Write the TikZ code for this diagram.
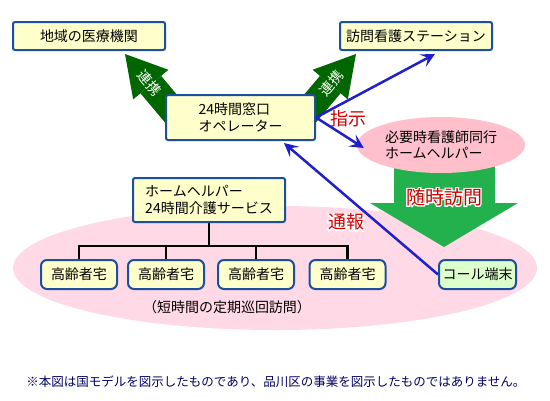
\documentclass[tikz,border=0pt]{standalone}
\usepackage{fontspec}
\newfontfamily\jpfont{Noto Sans CJK JP}
\usetikzlibrary{shapes.geometric,arrows.meta,calc}
\pgfdeclarelayer{fundo}
\pgfsetlayers{fundo,main}
\definecolor{amarelo}{HTML}{FFFFCC}
\definecolor{borda}{HTML}{1C4FA0}
\definecolor{rosa}{HTML}{FFC0CB}
\definecolor{rosaclaro}{HTML}{FFD9E6}
\definecolor{verdeescuro}{HTML}{006600}
\definecolor{verde}{HTML}{22B14C}
\definecolor{verdeclaro}{HTML}{DDFFCC}
\definecolor{azul}{HTML}{1F1FCC}
\definecolor{vermelho}{HTML}{CC0000}
\definecolor{marinho}{HTML}{000066}
% texto com contorno branco
\newcommand{\contorno}[1]{\makebox[0pt][l]{\color{white}\special{pdf:literal direct 2 Tr 2.5 w}#1\special{pdf:literal direct 0 Tr 0.4 w}}#1}

\begin{document}
\begin{tikzpicture}[x=1pt,y=-1pt,font=\jpfont\fontsize{14}{16.5}\selectfont]
% Definição de estilos
\tikzset{
  caixa/.style={rectangle, draw=borda, line width=2pt, fill=amarelo, rounded corners=2pt, minimum width=152pt, minimum height=28pt, inner sep=0pt},
  casa/.style={caixa, rounded corners=6pt, minimum width=76pt, minimum height=29pt},
  oval/.style={ellipse, fill=#1, inner sep=0pt},
  aviso/.style={text=vermelho, font=\jpfont\fontsize{18}{20}\selectfont},
  renkei/.style={draw=verdeescuro, line width=27pt, -{Triangle[length=40pt, width=46pt, line width=0pt]}},
  instrucao/.style={draw=azul, line width=2.5pt, -{Stealth[length=14pt, width=14pt, inset=6pt]}},
  arvore/.style={draw=black, line width=2.5pt}
}
\useasboundingbox (0,0) rectangle (550,400);

% Caixas superiores
\node[caixa] (iryo) at (89,36) {地域の医療機関};
\node[caixa] (station) at (416,36) {訪問看護ステーション};

% Operador
\node[caixa, minimum width=149pt, minimum height=45pt, align=left] (op) at (240.5,117.5) {24時間窓口\\オペレーター};

% Visita quando necessario
\node[oval=rosa, minimum width=168pt, minimum height=56pt, align=left] (doko) at (441,145) {必要時看護師同行\\ホームヘルパー};

% Ajudante 24 horas
\node[caixa, minimum height=44pt, align=left] (helper) at (209,200) {ホームヘルパー\\24時間介護サービス};

% Casas dos idosos
\foreach \i/\x in {1/79,2/166,3/256,4/347.5}
  \node[casa] (casa\i) at (\x,274.5) {高齢者宅};
\node[casa, fill=verdeclaro, minimum width=77pt] (koru) at (477.5,274.5) {コール端末};

\node (teiki) at (227,307) {（短時間の定期巡回訪問）};

% Rotulos
\node[aviso] (shiji) at (348,119) {\contorno{指示}};
\node[aviso] (tsuho) at (346,222) {\contorno{通報}};
\node[aviso, font=\jpfont\fontsize{19}{21}\selectfont] (zuijilabel) at (444,197) {\contorno{随時訪問}};

\node[text=marinho, font=\jpfont\fontsize{12.5}{14}\selectfont] (nota) at (276,382) {※本図は国モデルを図示したものであり、品川区の事業を図示したものではありません。};

% Fundo: elipse grande e setas largas
\begin{pgfonlayer}{fundo}
\node[oval=rosaclaro, minimum width=524pt, minimum height=124pt] (area) at (275,268) {};
\coordinate (zuijitip) at (444,247);
\draw[draw=verde, line width=101pt, -{Triangle[length=44pt, width=148pt, line width=0pt]}] (zuijitip |- doko.center) -- (zuijitip);
\draw[renkei] ([shift={(24,-11)}]op.south west) -- ([shift={(36,3)}]iryo.south) node[pos=0.62, sloped, text=white] {連携};
\draw[renkei] ([shift={(-24,-11)}]op.south east) -- ([shift={(-60,3)}]station.south) node[pos=0.62, sloped, text=white] {連携};
\end{pgfonlayer}

% Ligacoes
\coordinate (bus) at ($(helper.south)+(0,23)$);
\draw[arvore] (helper.south) -- (bus);
\foreach \i in {1,2,3,4}
  \draw[arvore] (casa\i.north) |- (bus);

\draw[instrucao] (op.east) -- ([shift={(19,3)}]station.south);
\draw[instrucao] (op.east) -- ([shift={(7,3)}]doko.west);
\draw[instrucao] (koru.west) -- ([shift={(-32,2)}]op.south east);

\end{tikzpicture}
\end{document}
